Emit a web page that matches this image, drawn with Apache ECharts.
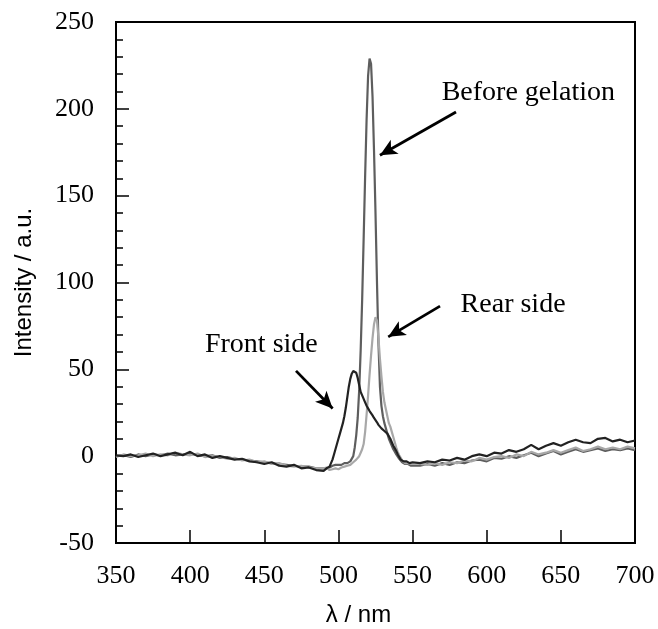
<!DOCTYPE html>
<html>
<head>
<meta charset="utf-8">
<script src="https://cdn.jsdelivr.net/npm/echarts@6/dist/echarts.min.js"></script>
<style>
html,body{margin:0;padding:0;background:#fff;}
#chart{width:658px;height:629px;}
</style>
</head>
<body>
<div id="chart"></div>
<script>
// Wavelengths (nm)
var wavelengths = [
  350,355,360,365,370,375,380,385,390,395,400,405,410,415,420,425,430,435,440,445,450,455,460,465,470,475,480,485,
  490,491,492,493,494,495,496,497,498,499,500,501,502,503,504,505,506,507,508,509,510,
  511,512,513,514,515,516,517,518,519,520,521,522,523,524,525,526,527,528,529,530,
  531,532,533,534,535,536,537,538,539,540,541,542,543,544,545,546,547,548,549,550,
  555,560,565,570,575,580,585,590,595,600,605,610,615,620,625,630,635,640,645,650,655,660,665,670,675,680,685,690,695,700
];

// Before gelation (medium grey)
var beforeGelation = [
  0,0.5,-0.5,1,0,1,0.5,1.5,0.5,1,1.5,0.5,0,0.5,-1,-0.5,-1.5,-2,-2.5,-3,-3.5,-4,-4.5,-5,-5.5,-6,-6,-7,
  -7,-6.5,-7,-6,-6.5,-6,-5.5,-6,-5,-5.5,-5,-4.5,-5,-4.5,-4,-4.5,-4,-3.5,-3,-2,0,
  5,12,22,38,61,90,125,161,194,219,229,226,207,176,140,100,65,40,29,23,
  19,16,13,10,8,6,4,2.5,1,0,-1.5,-2.5,-3.5,-4,-4.5,-5,-4.5,-5,-5.5,-5,
  -5.5,-4.5,-5.5,-4,-5,-3.5,-4,-2.5,-2,-3,-1,-1.5,0,-1,0.5,2,0,1.5,3,1,2.5,4,2.5,3.5,4.5,3,4,3.5,4.5,3.5
];

// Rear side (light grey)
var rearSide = [
  -0.5,1,0,0.5,1.5,0,1,0.5,2,1,0.5,1.5,-0.5,0,-0.5,-1.5,-1,-2.5,-2,-3.5,-3,-4.5,-4,-5.5,-6,-5.5,-6.5,-7,
  -7,-7.5,-6.5,-7,-8,-7,-7.5,-6.5,-7,-8,-7.5,-7,-6.5,-7,-6,-6.5,-5.5,-6,-5,-4.5,-3.5,
  -3,-2,-1,0,2,4,7,14,24,35,47,58,68,76,80,78,68,56,46,37,
  31,27,23,19,17,14,11,8,5,2.5,0.5,-1,-2.5,-3,-4,-4.5,-4,-5,-4.5,-5,
  -4.5,-5,-4,-5,-3.5,-4,-2.5,-3,-1,-2,-0.5,0,-1,1,0,2.5,1,2,3.5,2,3.5,5,3,4,5.5,4,5,4,5.5,4.5
];

// Front side (dark)
var frontSide = [
  0.5,0,1,-0.5,0.5,1.5,0,1,2,0.5,2.5,0,1,-1,0,-1,-2,-1.5,-3,-3.5,-4.5,-3.5,-5.5,-6,-5,-7,-6.5,-8,
  -8.5,-9,-7,-6,-6,-4,-2,1,4,7,10,13,16,19,23,28,34,40,44.5,47.5,49,
  49.5,48,45,41,37,35,33,31,29,27.5,26,25,23.5,22,21,19.5,18,17,16,15,
  14.5,14,13,12,10,8,6,4.5,3,1,-0.5,-2,-2.5,-3,-4,-3,-3.5,-4,-3,-3.5,
  -4,-3,-3.5,-2,-2.5,-1,-2,0,1,0,2,1.5,3.5,2.5,4,6.5,4,6,7.5,6,8,9.5,8,7.5,10,10.5,8.5,9.5,8,9
];

var xTicks = [350,400,450,500,550,600,650,700];
var yTicks = [-50,0,50,100,150,200,250];

// Annotations: [label, text anchor (x, y), arrow start, arrow end] in data units
var annotationLabels = ['Before gelation','Rear side','Front side'];
var annotationTextPos = [[569.6,209.6],[582.4,87],[410,64.5]];
var arrowFrom = [[579.3,198.2],[568.5,86.4],[471.4,49.1]];
var arrowTo = [[528.0,173.3],[533.6,68.7],[496.1,27.5]];

function pairs(vals){ return wavelengths.map(function(w,i){ return [w, vals[i]]; }); }

var chart = echarts.init(document.getElementById('chart'), null, {renderer:'canvas'});
var serif = '"Liberation Serif","Times New Roman",serif';
var sans = '"Liberation Sans",Arial,sans-serif';

var arrowData = arrowFrom.map(function(f,i){ return [{coord:f},{coord:arrowTo[i]}]; });

chart.setOption({
  animation:false,
  backgroundColor:'#fff',
  grid:{left:116,right:23,top:22,bottom:86,show:true,borderColor:'#000',borderWidth:2,
        backgroundColor:'transparent',containLabel:false,outerBoundsMode:'none'},
  xAxis:{
    type:'value',min:xTicks[0],max:xTicks[xTicks.length-1],interval:50,
    name:'λ / nm',nameLocation:'middle',nameGap:60,
    nameTextStyle:{fontFamily:sans,fontSize:24,color:'#000',padding:[0,34,0,0]},
    axisLine:{show:true,onZero:false,lineStyle:{color:'#000',width:2}},
    axisTick:{show:true,inside:true,length:13,lineStyle:{color:'#000',width:1.5}},
    axisLabel:{fontFamily:serif,fontSize:26,color:'#000',margin:20},
    splitLine:{show:false}
  },
  yAxis:{
    type:'value',min:yTicks[0],max:yTicks[yTicks.length-1],interval:50,
    name:'Intensity / a.u.',nameLocation:'middle',nameGap:80,
    nameTextStyle:{fontFamily:sans,fontSize:24,color:'#000'},
    axisLine:{show:true,lineStyle:{color:'#000',width:2}},
    axisTick:{show:true,inside:true,length:13,lineStyle:{color:'#000',width:1.5}},
    minorTick:{show:true,splitNumber:5,length:7,lineStyle:{color:'#000',width:1.5}},
    axisLabel:{fontFamily:serif,fontSize:26,color:'#000',margin:22},
    splitLine:{show:false}
  },
  series:[
    {name:'Before gelation',type:'line',data:pairs(beforeGelation),showSymbol:false,symbol:'none',
     lineStyle:{color:'#5e5e5e',width:2.2},z:2},
    {name:'Rear side',type:'line',data:pairs(rearSide),showSymbol:false,symbol:'none',
     lineStyle:{color:'#a8a8a8',width:2.2},z:3},
    {name:'Front side',type:'line',data:pairs(frontSide),showSymbol:false,symbol:'none',
     lineStyle:{color:'#222',width:2.2},z:4,
     markLine:{silent:true,symbol:['none','arrow'],symbolSize:[12,17],
       lineStyle:{color:'#000',width:2.8,type:'solid'},label:{show:false},
       emphasis:{disabled:true},data:arrowData}}
  ]
});

var texts = annotationLabels.map(function(t,i){
  var p = chart.convertToPixel({gridIndex:0}, annotationTextPos[i]);
  return {type:'text',x:p[0],y:p[1],style:{text:t,font:'28px '+serif,fill:'#000',align:'left',verticalAlign:'middle'},z:100};
});
chart.setOption({graphic:texts});
</script>
</body>
</html>
